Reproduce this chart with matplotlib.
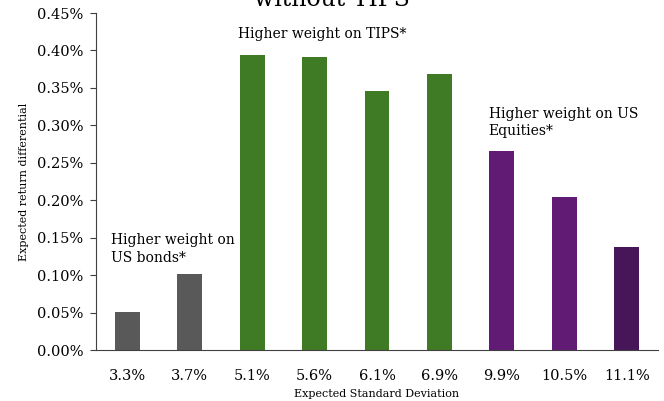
import matplotlib
matplotlib.use('Agg')
import matplotlib.pyplot as plt
from matplotlib.ticker import FuncFormatter

# data
std_labels = ['3.3%', '3.7%', '5.1%', '5.6%', '6.1%', '6.9%', '9.9%', '10.5%', '11.1%']
ret_diff = [0.051, 0.101, 0.394, 0.391, 0.346, 0.368, 0.266, 0.204, 0.137]
bar_colors = ['#595959', '#595959', '#3F7B24', '#3F7B24', '#3F7B24', '#3F7B24',
              '#621B74', '#621B74', '#471659']

plt.rcParams['font.family'] = ['DejaVu Serif']

fig = plt.figure(figsize=(6.64, 4.01), dpi=100)
ax = fig.add_axes([96 / 664, 51 / 401, 562 / 664, 337 / 401])

x = range(len(std_labels))
ax.bar(x, ret_diff, width=0.4, color=bar_colors)

ax.set_xlim(-0.5, len(std_labels) - 0.5)
ax.set_ylim(0, 0.45)
ax.set_yticks([i * 0.05 for i in range(10)])
ax.yaxis.set_major_formatter(FuncFormatter(lambda v, p: '%.2f%%' % v))
ax.set_xticks(list(x))
ax.set_xticklabels(std_labels)

for s in ['top', 'right']:
    ax.spines[s].set_visible(False)
ax.spines['left'].set_color('#404040')
ax.spines['bottom'].set_color('#404040')
ax.tick_params(axis='y', length=4, color='#404040', labelsize=10.5, pad=5)
ax.tick_params(axis='x', length=0, labelsize=10.5, pad=14)

ax.set_xlabel('Expected Standard Deviation', fontsize=8, labelpad=4)
ax.set_ylabel('Expected return differential', fontsize=8, labelpad=6)

# group notes
ax.text(-0.26, 0.156, 'Higher weight on\nUS bonds*', fontsize=10, va='top', linespacing=1.35)
ax.text(1.77, 0.431, 'Higher weight on TIPS*', fontsize=10, va='top')
ax.text(5.79, 0.325, 'Higher weight on US\nEquities*', fontsize=10, va='top', linespacing=1.3)

# title, second line only partly visible at the top edge
fig.text(0.5, 1.0, 'without TIPS', fontsize=17, ha='center', va='center')

fig.savefig('out.png', dpi=100)
